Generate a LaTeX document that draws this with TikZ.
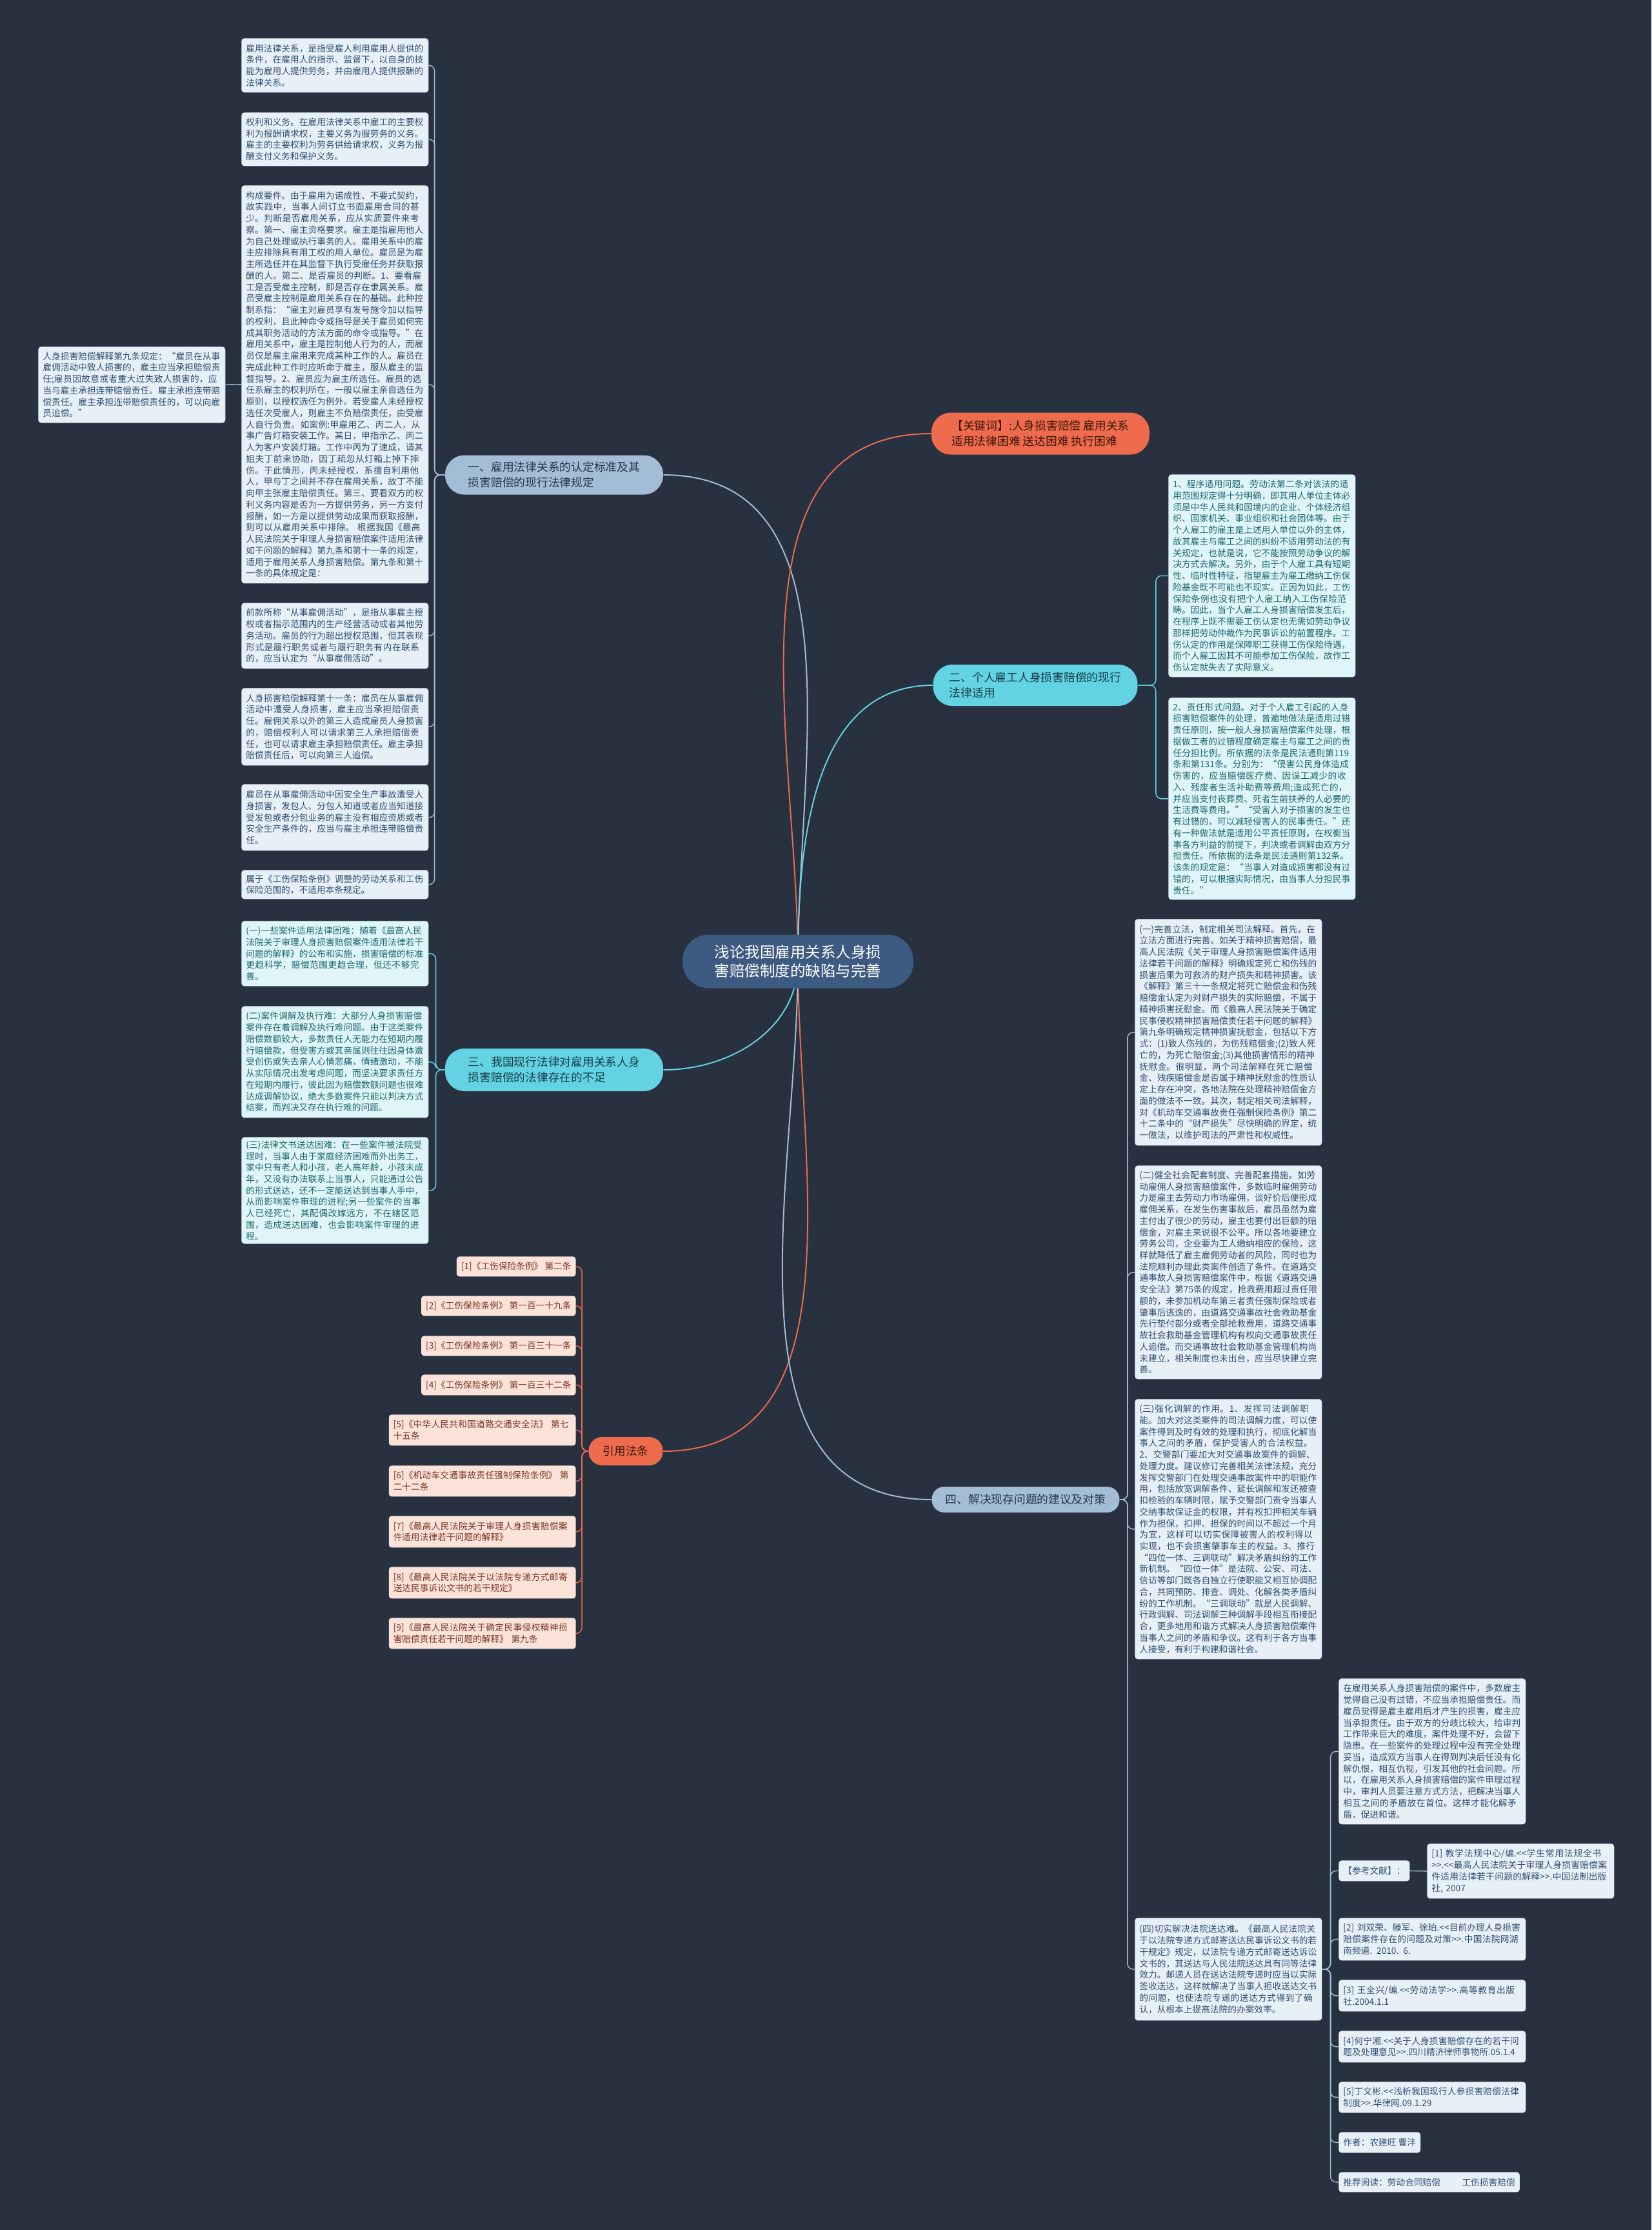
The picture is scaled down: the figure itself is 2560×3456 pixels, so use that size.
\documentclass[tikz,border=0pt]{standalone}
\usepackage{fontspec}
\setmainfont{Noto Sans CJK SC}
\usetikzlibrary{backgrounds}
\XeTeXlinebreaklocale "zh"
\XeTeXlinebreakskip = 0pt plus 1pt

\definecolor{bgc}{HTML}{283140}
\definecolor{topicc}{HTML}{3D5A80}
\definecolor{bluebr}{HTML}{A4BDD6}
\definecolor{bluebrtx}{HTML}{22364D}
\definecolor{cyanbr}{HTML}{63D2E2}
\definecolor{cyanbrtx}{HTML}{163F4A}
\definecolor{orgbr}{HTML}{EE6B4D}
\definecolor{orgbrtx}{HTML}{3A1509}
\definecolor{bleaf}{HTML}{E8F0F7}
\definecolor{bleaftx}{HTML}{2F4F70}
\definecolor{cleaf}{HTML}{DFF5F7}
\definecolor{cleaftx}{HTML}{1D6772}
\definecolor{oleaf}{HTML}{FBE3DA}
\definecolor{oleaftx}{HTML}{7B3624}
\definecolor{bluel}{HTML}{A3BFDA}
\definecolor{cyanl}{HTML}{66D4E3}
\definecolor{orgl}{HTML}{EE6B4D}

\begin{document}
\begin{tikzpicture}[x=0.02cm, y=-0.02cm]
        \tikzstyle{topic}=[fill=topicc, text=white, rounded corners=23pt, align=center, font=\fontsize{13.4pt}{17pt}\selectfont]
        \tikzstyle{branch}=[rounded corners=17pt, align=left, inner sep=0pt, font=\fontsize{10.1pt}{13.5pt}\selectfont]
        \tikzstyle{bluebranch}=[branch, fill=bluebr, text=bluebrtx]
        \tikzstyle{cyanbranch}=[branch, fill=cyanbr, text=cyanbrtx]
        \tikzstyle{orgbranch}=[branch, fill=orgbr, text=orgbrtx]
        \tikzstyle{card}=[anchor=north west, rounded corners=2.5pt, inner xsep=4pt, inner ysep=3pt, align=left, font=\fontsize{7.8pt}{10.1pt}\selectfont]
        \tikzstyle{leaf}=[card, text width=157pt]
        \tikzstyle{bluecard}=[card, fill=bleaf, text=bleaftx]
        \tikzstyle{blueleaf}=[leaf, fill=bleaf, text=bleaftx]
        \tikzstyle{cyanleaf}=[leaf, fill=cleaf, text=cleaftx]
        \tikzstyle{orgcard}=[card, anchor=north east, fill=oleaf, text=oleaftx]
        \tikzstyle{orgleaf}=[leaf, anchor=north east, fill=oleaf, text=oleaftx]
        \tikzstyle{bough}=[line width=1.1pt]
        \tikzstyle{twig}=[line width=0.8pt, rounded corners=5pt]

        \useasboundingbox (0,0) rectangle (2560,3456);

        \node[topic, minimum width=7.16cm, minimum height=1.66cm] (root) at (1237,1490) {浅论我国雇用关系人身损\\害赔偿制度的缺陷与完善};

        \node[bluebranch, minimum width=6.76cm, minimum height=1.22cm] (sec1) at (859,736) {一、雇用法律关系的认定标准及其\\损害赔偿的现行法律规定};
        \node[orgbranch, minimum width=6.76cm, minimum height=1.30cm] (kw) at (1613,672) {【关键词】:人身损害赔偿 雇用关系\\适用法律困难 送达困难 执行困难};
        \node[cyanbranch, minimum width=6.34cm, minimum height=1.28cm] (sec2) at (1605,1062) {二、个人雇工人身损害赔偿的现行\\法律适用};
        \node[cyanbranch, minimum width=6.76cm, minimum height=1.32cm] (sec3) at (859,1658) {三、我国现行法律对雇用关系人身\\损害赔偿的法律存在的不足};
        \node[orgbranch, minimum width=2.30cm, minimum height=0.88cm, rounded corners=12pt] (cite) at (970,2249) {引用法条};
        \node[bluebranch, minimum width=5.82cm, minimum height=0.80cm, rounded corners=11pt] (sec4) at (1590,2324) {四、解决现存问题的建议及对策};

        \node[blueleaf, minimum height=1.68cm] (s1a) at (374,59) {雇用法律关系，是指受雇人利用雇用人提供的条件，在雇用人的指示、监督下，以自身的技能为雇用人提供劳务，并由雇用人提供报酬的法律关系。};
        \node[blueleaf, minimum height=1.66cm] (s1b) at (374,174) {权利和义务。在雇用法律关系中雇工的主要权利为报酬请求权，主要义务为服劳务的义务。雇主的主要权利为劳务供给请求权，义务为报酬支付义务和保护义务。};
        \node[blueleaf, minimum height=12.34cm] (s1c) at (374,287) {构成要件。由于雇用为诺成性、不要式契约，故实践中，当事人间订立书面雇用合同的甚少。判断是否雇用关系，应从实质要件来考察。第一、雇主资格要求。雇主是指雇用他人为自己处理或执行事务的人。雇用关系中的雇主应排除具有用工权的用人单位。雇员是为雇主所选任并在其监督下执行受雇任务并获取报酬的人。第二、是否雇员的判断。1、要看雇工是否受雇主控制，即是否存在隶属关系。雇员受雇主控制是雇用关系存在的基础。此种控制系指：“雇主对雇员享有发号施令加以指导的权利，且此种命令或指导是关于雇员如何完成其职务活动的方法方面的命令或指导。”在雇用关系中，雇主是控制他人行为的人，而雇员仅是雇主雇用来完成某种工作的人。雇员在完成此种工作时应听命于雇主，服从雇主的监督指导。2、雇员应为雇主所选任。雇员的选任系雇主的权利所在，一般以雇主亲自选任为原则，以授权选任为例外。若受雇人未经授权选任次受雇人，则雇主不负赔偿责任，由受雇人自行负责。如案例:甲雇用乙、丙二人，从事广告灯箱安装工作。某日，甲指示乙、丙二人为客户安装灯箱。工作中丙为了速成，请其姐夫丁前来协助，因丁疏忽从灯箱上掉下摔伤。于此情形，丙未经授权，系擅自利用他人，甲与丁之间并不存在雇用关系，故丁不能向甲主张雇主赔偿责任。第三、要看双方的权利义务内容是否为一方提供劳务，另一方支付报酬，如一方是以提供劳动成果而获取报酬，则可以从雇用关系中排除。 根据我国《最高人民法院关于审理人身损害赔偿案件适用法律如干问题的解释》第九条和第十一条的规定，适用于雇用关系人身损害赔偿。第九条和第十一条的具体规定是：};
        \node[blueleaf, minimum height=2.36cm] (far) at (59,537) {人身损害赔偿解释第九条规定：“雇员在从事雇佣活动中致人损害的，雇主应当承担赔偿责任;雇员因故意或者重大过失致人损害的，应当与雇主承担连带赔偿责任。雇主承担连带赔偿责任。雇主承担连带赔偿责任的，可以向雇员追偿。”};
        \node[blueleaf, minimum height=2.04cm] (s1d) at (374,934) {前款所称“从事雇佣活动”，是指从事雇主授权或者指示范围内的生产经营活动或者其他劳务活动。雇员的行为超出授权范围，但其表现形式是履行职务或者与履行职务有内在联系的，应当认定为“从事雇佣活动”。};
        \node[blueleaf, minimum height=2.40cm] (s1e) at (374,1066) {人身损害赔偿解释第十一条：雇员在从事雇佣活动中遭受人身损害，雇主应当承担赔偿责任。雇佣关系以外的第三人造成雇员人身损害的，赔偿权利人可以请求第三人承担赔偿责任，也可以请求雇主承担赔偿责任。雇主承担赔偿责任后，可以向第三人追偿。};
        \node[blueleaf, minimum height=2.06cm] (s1f) at (374,1215) {雇员在从事雇佣活动中因安全生产事故遭受人身损害，发包人、分包人知道或者应当知道接受发包或者分包业务的雇主没有相应资质或者安全生产条件的，应当与雇主承担连带赔偿责任。};
        \node[blueleaf, minimum height=0.90cm] (s1g) at (374,1348) {属于《工伤保险条例》调整的劳动关系和工伤保险范围的，不适用本条规定。};

        \node[cyanleaf, minimum height=6.28cm] (s2a) at (1811,735) {1、程序适用问题。劳动法第二条对该法的适用范围规定得十分明确，即其用人单位主体必须是中华人民共和国境内的企业、个体经济组织、国家机关、事业组织和社会团体等。由于个人雇工的雇主是上述用人单位以外的主体，故其雇主与雇工之间的纠纷不适用劳动法的有关规定，也就是说，它不能按照劳动争议的解决方式去解决。另外，由于个人雇工具有短期性、临时性特征，指望雇主为雇工缴纳工伤保险基金既不可能也不现实。正因为如此，工伤保险条例也没有把个人雇工纳入工伤保险范畴。因此，当个人雇工人身损害赔偿发生后，在程序上既不需要工伤认定也无需如劳动争议那样把劳动仲裁作为民事诉讼的前置程序。工伤认定的作用是保障职工获得工伤保险待遇，而个人雇工因其不可能参加工伤保险，故作工伤认定就失去了实际意义。};
        \node[cyanleaf, minimum height=6.26cm] (s2b) at (1811,1081) {2、责任形式问题。对于个人雇工引起的人身损害赔偿案件的处理，普遍地做法是适用过错责任原则，按一般人身损害赔偿案件处理，根据做工者的过错程度确定雇主与雇工之间的责任分担比例。所依据的法条是民法通则第119条和第131条。分别为：“侵害公民身体造成伤害的，应当赔偿医疗费、因误工减少的收入、残废者生活补助费等费用;造成死亡的，并应当支付丧葬费、死者生前扶养的人必要的生活费等费用。”“受害人对于损害的发生也有过错的，可以减轻侵害人的民事责任。”还有一种做法就是适用公平责任原则，在权衡当事各方利益的前提下，判决或者调解由双方分担责任。所依据的法条是民法通则第132条。该条的规定是：“当事人对造成损害都没有过错的，可以根据实际情况，由当事人分担民事责任。”};

        \node[cyanleaf, minimum height=2.02cm] (s3a) at (374,1427) {(一)一些案件适用法律困难：随着《最高人民法院关于审理人身损害赔偿案件适用法律若干问题的解释》的公布和实施，损害赔偿的标准更趋科学，赔偿范围更趋合理，但还不够完善。};
        \node[cyanleaf, minimum height=3.46cm] (s3b) at (374,1559) {(二)案件调解及执行难：大部分人身损害赔偿案件存在着调解及执行难问题。由于这类案件赔偿数额较大，多数责任人无能力在短期内履行赔偿款，但受害方或其亲属则往往因身体遭受创伤或失去亲人心情悲痛，情绪激动，不能从实际情况出发考虑问题，而坚决要求责任方在短期内履行，彼此因为赔偿数额问题也很难达成调解协议，绝大多数案件只能以判决方式结案，而判决又存在执行难的问题。};
        \node[cyanleaf, minimum height=3.10cm] (s3c) at (374,1762) {(三)法律文书送达困难：在一些案件被法院受理时，当事人由于家庭经济困难而外出务工，家中只有老人和小孩，老人高年龄，小孩未成年，又没有办法联系上当事人，只能通过公告的形式送达，还不一定能送达到当事人手中，从而影响案件审理的进程;另一些案件的当事人已经死亡，其配偶改嫁远方，不在辖区范围，造成送达困难，也会影响案件审理的进程。};

        \node[orgcard, minimum height=0.62cm] (law1) at (893,1947) {[1]《工伤保险条例》 第二条};
        \node[orgcard, minimum height=0.62cm] (law2) at (893,2008) {[2]《工伤保险条例》 第一百一十九条};
        \node[orgcard, minimum height=0.62cm] (law3) at (893,2070) {[3]《工伤保险条例》 第一百三十一条};
        \node[orgcard, minimum height=0.64cm] (law4) at (893,2130) {[4]《工伤保险条例》 第一百三十二条};
        \node[orgleaf, minimum height=0.96cm] (law5) at (893,2192) {[5]《中华人民共和国道路交通安全法》 第七十五条};
        \node[orgleaf, minimum height=0.96cm] (law6) at (893,2271) {[6]《机动车交通事故责任强制保险条例》 第二十二条};
        \node[orgleaf, minimum height=0.98cm] (law7) at (893,2349) {[7]《最高人民法院关于审理人身损害赔偿案件适用法律若干问题的解释》};
        \node[orgleaf, minimum height=0.98cm] (law8) at (893,2428) {[8]《最高人民法院关于以法院专递方式邮寄送达民事诉讼文书的若干规定》};
        \node[orgleaf, minimum height=0.96cm] (law9) at (893,2507) {[9]《最高人民法院关于确定民事侵权精神损害赔偿责任若干问题的解释》 第九条};

        \node[blueleaf, minimum height=7.02cm] (s4a) at (1759,1424) {(一)完善立法，制定相关司法解释。首先，在立法方面进行完善。如关于精神损害赔偿，最高人民法院《关于审理人身损害赔偿案件适用法律若干问题的解释》明确规定死亡和伤残的损害后果为可救济的财产损失和精神损害。该《解释》第三十一条规定将死亡赔偿金和伤残赔偿金认定为对财产损失的实际赔偿，不属于精神损害抚慰金。而《最高人民法院关于确定民事侵权精神损害赔偿责任若干问题的解释》第九条明确规定精神损害抚慰金，包括以下方式：(1)致人伤残的，为伤残赔偿金;(2)致人死亡的，为死亡赔偿金;(3)其他损害情形的精神抚慰金。很明显，两个司法解释在死亡赔偿金、残疾赔偿金是否属于精神抚慰金的性质认定上存在冲突，各地法院在处理精神赔偿金方面的做法不一致。其次，制定相关司法解释，对《机动车交通事故责任强制保险条例》第二十二条中的“财产损失”尽快明确的界定，统一做法，以维护司法的严肃性和权威性。};
        \node[blueleaf, minimum height=6.62cm] (s4b) at (1759,1806) {(二)健全社会配套制度、完善配套措施。如劳动雇佣人身损害赔偿案件，多数临时雇佣劳动力是雇主去劳动力市场雇佣，谈好价后便形成雇佣关系，在发生伤害事故后，雇员虽然为雇主付出了很少的劳动，雇主也要付出巨额的赔偿金，对雇主来说很不公平。所以各地要建立劳务公司，企业要为工人缴纳相应的保险，这样就降低了雇主雇佣劳动者的风险，同时也为法院顺利办理此类案件创造了条件。在道路交通事故人身损害赔偿案件中，根据《道路交通安全法》第75条的规定，抢救费用超过责任限额的，未参加机动车第三者责任强制保险或者肇事后逃逸的，由道路交通事故社会救助基金先行垫付部分或者全部抢救费用，道路交通事故社会救助基金管理机构有权向交通事故责任人追偿。而交通事故社会救助基金管理机构尚未建立，相关制度也未出台，应当尽快建立完善。};
        \node[blueleaf, minimum height=8.06cm] (s4c) at (1759,2168) {(三)强化调解的作用。1、发挥司法调解职能。加大对这类案件的司法调解力度，可以使案件得到及时有效的处理和执行，彻底化解当事人之间的矛盾，保护受害人的合法权益。2、交警部门要加大对交通事故案件的调解、处理力度。建议修订完善相关法律法规，充分发挥交警部门在处理交通事故案件中的职能作用，包括放宽调解条件、延长调解和发还被查扣检验的车辆时限，赋予交警部门责令当事人交纳事故保证金的权限，并有权扣押相关车辆作为担保，扣押、担保的时间以不超过一个月为宜，这样可以切实保障被害人的权利得以实现，也不会损害肇事车主的权益。3、推行“四位一体、三调联动”解决矛盾纠纷的工作新机制。“四位一体”是法院、公安、司法、信访等部门既各自独立行使职能又相互协调配合，共同预防、排查、调处、化解各类矛盾纠纷的工作机制。“三调联动”就是人民调解、行政调解、司法调解三种调解手段相互衔接配合，更多地用和谐方式解决人身损害赔偿案件当事人之间的矛盾和争议。这有利于各方当事人接受，有利于构建和谐社会。};
        \node[blueleaf, minimum height=3.18cm] (s4d) at (1759,2972) {(四)切实解决法院送达难。《最高人民法院关于以法院专递方式邮寄送达民事诉讼文书的若干规定》规定，以法院专递方式邮寄送达诉讼文书的，其送达与人民法院送达具有同等法律效力。邮递人员在送达法院专递时应当以实际签收送达，这样就解决了当事人拒收送达文书的问题，也使法院专递的送达方式得到了确认，从根本上提高法院的办案效率。};

        \node[blueleaf, minimum height=4.52cm] (close) at (2075,2601) {在雇用关系人身损害赔偿的案件中，多数雇主觉得自己没有过错，不应当承担赔偿责任。而雇员觉得是雇主雇用后才产生的损害，雇主应当承担责任。由于双方的分歧比较大，给审判工作带来巨大的难度，案件处理不好，会留下隐患。在一些案件的处理过程中没有完全处理妥当，造成双方当事人在得到判决后任没有化解仇恨，相互仇视，引发其他的社会问题。所以，在雇用关系人身损害赔偿的案件审理过程中，审判人员要注意方式方法，把解决当事人相互之间的矛盾放在首位。这样才能化解矛盾，促进和谐。};
        \node[bluecard, minimum height=0.64cm] (refs) at (2075,2883) {【参考文献】：};
        \node[blueleaf, minimum height=1.70cm] (lit1) at (2212,2857) {[1] 教学法规中心/编.<{}<学生常用法规全书>{}>.<{}<最高人民法院关于审理人身损害赔偿案件适用法律若干问题的解释>{}>.中国法制出版社, 2007};
        \node[blueleaf, minimum height=1.32cm] (lit2) at (2075,2972) {[2] 刘双荣、滕军、徐珀.<{}<目前办理人身损害赔偿案件存在的问题及对策>{}>.中国法院网湖南频道. 2010. 6.};
        \node[blueleaf, minimum height=0.98cm] (lit3) at (2075,3068) {[3] 王全兴/编.<{}<劳动法学>{}>.高等教育出版社.2004.1.1};
        \node[blueleaf, minimum height=0.98cm] (lit4) at (2075,3147) {[4]何宁湘.<{}<关于人身损害赔偿存在的若干问题及处理意见>{}>.四川精济律师事物所.05.1.4};
        \node[blueleaf, minimum height=0.96cm] (lit5) at (2075,3226) {[5]丁文彬.<{}<浅析我国现行人参损害赔偿法律制度>{}>.华律网.09.1.29};
        \node[bluecard, minimum height=0.64cm] (author) at (2075,3304) {作者：农建旺 曹沣};
        \node[bluecard, minimum height=0.62cm] (more) at (2075,3366) {推荐阅读：劳动合同赔偿\hspace{19pt}工伤损害赔偿};

        \begin{scope}[on background layer]
            \fill[bgc] (0,0) rectangle (2560,3456);

            \draw[bough, bluel] (root.center) to[out=90,in=0] (sec1.east);
            \draw[bough, orgl] (root.center) to[out=90,in=180] (kw.west);
            \draw[bough, cyanl] (root.center) to[out=90,in=180] (sec2.west);
            \draw[bough, cyanl] (root.center) to[out=-90,in=0] (sec3.east);
            \draw[bough, orgl] (root.center) to[out=-90,in=0] (cite.east);
            \draw[bough, bluel] (root.center) to[out=-90,in=180] (sec4.west);

            \foreach \n in {s1a,s1b,s1c,s1d,s1e,s1f,s1g}
                \draw[twig, bluel] (sec1.west) -- ++(-16,0) |- (\n.east);
            \draw[twig, bluel] (s1c.west) -- (far.east);
            \foreach \n in {s2a,s2b}
                \draw[twig, cyanl] (sec2.east) -- ++(28,0) |- (\n.west);
            \foreach \n in {s3a,s3b,s3c}
                \draw[twig, cyanl] (sec3.west) -- ++(-14,0) |- (\n.east);
            \foreach \n in {law1,law2,law3,law4,law5,law6,law7,law8,law9}
                \draw[twig, orgl] (cite.west) -- ++(-10,0) |- (\n.east);
            \foreach \n in {s4a,s4b,s4c,s4d}
                \draw[twig, bluel] (sec4.east) -- ++(12,0) |- (\n.west);
            \foreach \n in {close,refs,lit2,lit3,lit4,lit5,author,more}
                \draw[twig, bluel] (s4d.east) -- ++(13,0) |- (\n.west);
            \draw[twig, bluel] (refs.east) -- (lit1.west);
        \end{scope}
    \end{tikzpicture}
\end{document}
